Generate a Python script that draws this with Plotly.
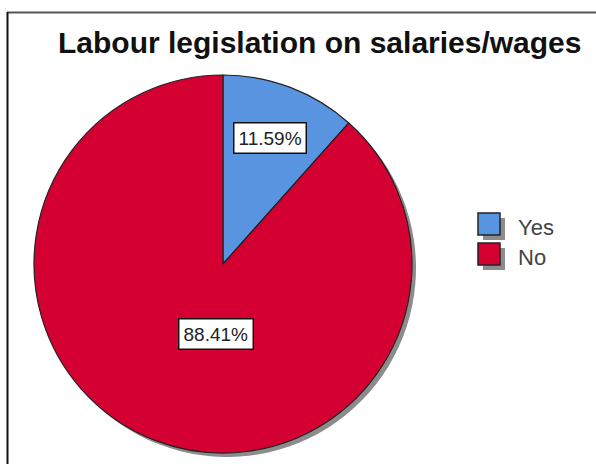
import plotly.graph_objects as go

# ---- data ----
categories = ["Yes", "No"]
percentages = [11.59, 88.41]
colors = ["#5894e0", "#d50032"]
title_text = "Labour legislation on salaries/wages"

W, H = 596, 464

def px_x(x):
    return x / W

def px_y(y):
    return 1 - y / H

# pie geometry (pixels)
cx, cy, r = 223, 264, 189
sh = 4  # shadow offset

fig = go.Figure()

# shadow pie
fig.add_trace(go.Pie(
    values=percentages, labels=categories, sort=False, direction="clockwise", rotation=0,
    marker=dict(colors=["#8c8c8c"] * len(categories), line=dict(width=0)),
    textinfo="none", hoverinfo="skip", showlegend=False,
    domain=dict(x=[px_x(cx - r + sh), px_x(cx + r + sh)], y=[px_y(cy + r + sh), px_y(cy - r + sh)]),
))

# main pie
fig.add_trace(go.Pie(
    values=percentages, labels=categories, sort=False, direction="clockwise", rotation=0,
    marker=dict(colors=colors, line=dict(color="#222222", width=1.2)),
    textinfo="none", showlegend=False,
    domain=dict(x=[px_x(cx - r), px_x(cx + r)], y=[px_y(cy + r), px_y(cy - r)]),
))

annotations = []
shapes = []

# title
annotations.append(dict(
    text="<b>" + title_text + "</b>", x=px_x(320), y=px_y(43), xref="paper", yref="paper",
    xanchor="center", yanchor="middle", showarrow=False,
    font=dict(family="Liberation Sans, Arial, sans-serif", size=30, color="#111111"),
))

# value labels
label_pos = [(270, 138), (216, 334)]
for (lx, ly), p in zip(label_pos, percentages):
    annotations.append(dict(
        text=f"{p:.2f}%", x=px_x(lx), y=px_y(ly), xref="paper", yref="paper",
        xanchor="center", yanchor="middle", showarrow=False,
        font=dict(family="Liberation Sans, Arial, sans-serif", size=19, color="#222222"),
        bgcolor="white", bordercolor="#111111", borderwidth=1.5, borderpad=4,
    ))

# custom legend
lx0, ly0, box, gap, so = 478, 213, 22, 30, 5
for i, (cat, col) in enumerate(zip(categories, colors)):
    y0 = ly0 + i * gap
    shapes.append(dict(type="rect", xref="paper", yref="paper",
                       x0=px_x(lx0 + so), x1=px_x(lx0 + box + so),
                       y0=px_y(y0 + box + so), y1=px_y(y0 + so),
                       fillcolor="#8c8c8c", line=dict(width=0)))
for i, (cat, col) in enumerate(zip(categories, colors)):
    y0 = ly0 + i * gap
    shapes.append(dict(type="rect", xref="paper", yref="paper",
                       x0=px_x(lx0), x1=px_x(lx0 + box),
                       y0=px_y(y0 + box), y1=px_y(y0),
                       fillcolor=col, line=dict(color="#222222", width=1.5)))
    annotations.append(dict(
        text=cat, x=px_x(516), y=px_y(y0 + box / 2 + 3), xref="paper", yref="paper",
        xanchor="left", yanchor="middle", showarrow=False,
        font=dict(family="Liberation Sans, Arial, sans-serif", size=22, color="#444444"),
    ))

# frame
shapes.append(dict(type="line", xref="paper", yref="paper",
                   x0=px_x(7), x1=1, y0=px_y(12.5), y1=px_y(12.5),
                   line=dict(color="#555555", width=2)))
shapes.append(dict(type="line", xref="paper", yref="paper",
                   x0=px_x(7.5), x1=px_x(7.5), y0=0, y1=px_y(12),
                   line=dict(color="#111111", width=2)))

fig.update_layout(
    width=W, height=H, margin=dict(l=0, r=0, t=0, b=0),
    paper_bgcolor="white", plot_bgcolor="white",
    annotations=annotations, shapes=shapes, showlegend=False,
)

fig.write_html("out.html")
